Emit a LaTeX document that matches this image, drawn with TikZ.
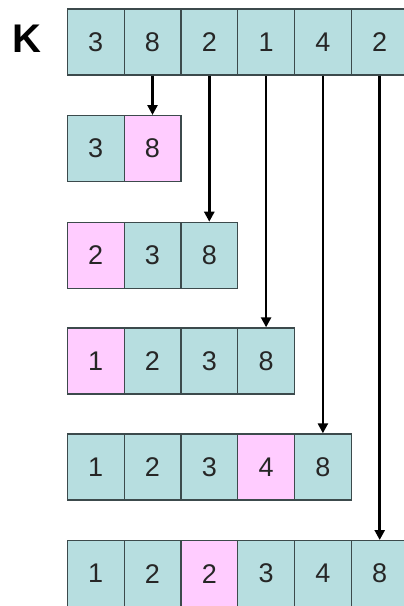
\documentclass[tikz,border=0pt]{standalone}
\usepackage{fontspec}
\setmainfont{Liberation Sans}
\usetikzlibrary{arrows.meta}
\definecolor{cellblue}{HTML}{B7DEE0}
\definecolor{cellpink}{HTML}{FFCCFF}
\definecolor{edge}{HTML}{3C4A4C}
\tikzset{
  cell/.style={draw=edge, line width=1.2pt, minimum width=56.8pt, minimum height=66pt,
    inner sep=0pt, anchor=north west, font=\fontsize{27}{30}\selectfont, text=black!85},
  bl/.style={cell, fill=cellblue},
  pk/.style={cell, fill=cellpink},
  arr/.style={line width=2.6pt, -{Triangle[length=10pt,width=10pt]}, shorten >=0pt},
  klabel/.style={font=\fontsize{40}{44}\selectfont\bfseries}
}
\begin{document}
\begin{tikzpicture}[x=1pt,y=-1pt]
\useasboundingbox (0,0) rectangle (404,606);
\clip (0,0) rectangle (404,606);
\fill[white] (0,0) rectangle (404,606);
\node[klabel] (K) at (27,38.5) {K};
% row 0
\node[bl] (r0c0) at (66.7+0*56.8,8.3) {3};
\node[bl] (r0c1) at (66.7+1*56.8,8.3) {8};
\node[bl] (r0c2) at (66.7+2*56.8,8.3) {2};
\node[bl] (r0c3) at (66.7+3*56.8,8.3) {1};
\node[bl] (r0c4) at (66.7+4*56.8,8.3) {4};
\node[bl] (r0c5) at (66.7+5*56.8,8.3) {2};
% row 1
\node[bl] (r1c0) at (66.7+0*56.8,115) {3};
\node[pk] (r1c1) at (66.7+1*56.8,115) {8};
% row 2
\node[pk] (r2c0) at (66.7+0*56.8,221.7) {2};
\node[bl] (r2c1) at (66.7+1*56.8,221.7) {3};
\node[bl] (r2c2) at (66.7+2*56.8,221.7) {8};
% row 3
\node[pk] (r3c0) at (66.7+0*56.8,327.3) {1};
\node[bl] (r3c1) at (66.7+1*56.8,327.3) {2};
\node[bl] (r3c2) at (66.7+2*56.8,327.3) {3};
\node[bl] (r3c3) at (66.7+3*56.8,327.3) {8};
% row 4
\node[bl] (r4c0) at (66.7+0*56.8,433.3) {1};
\node[bl] (r4c1) at (66.7+1*56.8,433.3) {2};
\node[bl] (r4c2) at (66.7+2*56.8,433.3) {3};
\node[pk] (r4c3) at (66.7+3*56.8,433.3) {4};
\node[bl] (r4c4) at (66.7+4*56.8,433.3) {8};
% row 5
\node[bl] (r5c0) at (66.7+0*56.8,540) {1};
\node[bl] (r5c1) at (66.7+1*56.8,540) {2};
\node[pk] (r5c2) at (66.7+2*56.8,540) {2};
\node[bl] (r5c3) at (66.7+3*56.8,540) {3};
\node[bl] (r5c4) at (66.7+4*56.8,540) {4};
\node[bl] (r5c5) at (66.7+5*56.8,540) {8};
% arrows
\draw[arr] (r0c1.south) -- (r1c1.north);
\draw[arr] (r0c2.south) -- (r2c2.north);
\draw[arr] (r0c3.south) -- (r3c3.north);
\draw[arr] (r0c4.south) -- (r4c4.north);
\draw[arr] (r0c5.south) -- (r5c5.north);
\end{tikzpicture}
\end{document}
